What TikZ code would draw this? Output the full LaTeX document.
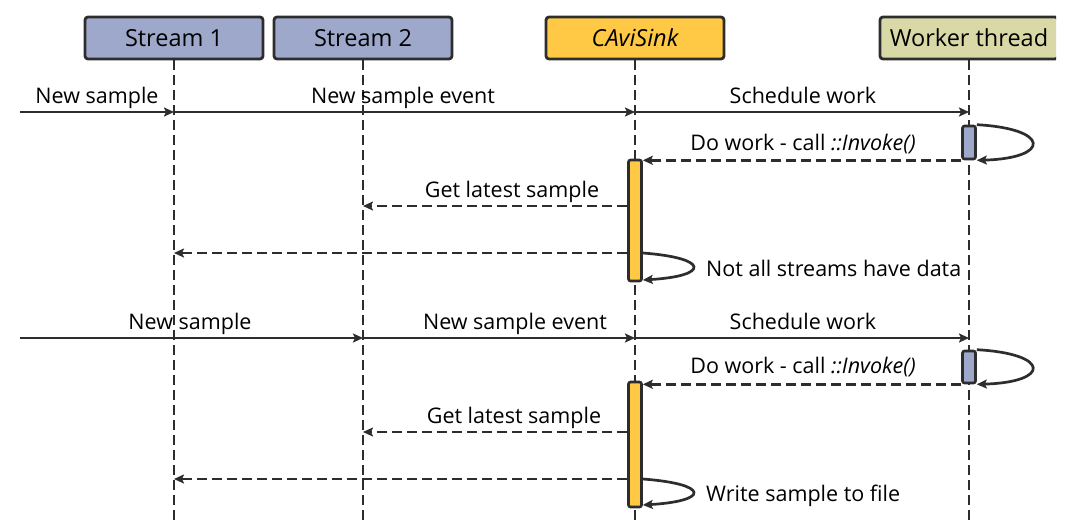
\documentclass[tikz,border=0pt]{standalone}
\usepackage{fontspec}
\setmainfont{Open Sans}
\usetikzlibrary{arrows.meta}
\definecolor{streamfill}{RGB}{157,168,202}
\definecolor{sinkfill}{RGB}{255,200,69}
\definecolor{workfill}{RGB}{216,217,166}
\definecolor{ink}{RGB}{45,45,45}
\begin{document}
\begin{tikzpicture}[x=1pt,y=-1pt,
  head/.style={draw=ink, line width=2.8pt, rounded corners=3pt, minimum width=178pt, minimum height=42pt, inner sep=0pt, font=\fontsize{23.5}{26}\selectfont},
  life/.style={draw=ink, line width=2.8pt, dash pattern=on 10pt off 5pt},
  msg/.style={draw=ink, line width=2.7pt, -{Stealth[length=10pt,width=9pt,inset=2pt]}},
  ret/.style={msg, dash pattern=on 10pt off 5pt},
  bar/.style={draw=ink, line width=2.6pt, rounded corners=2pt, minimum width=13pt, inner sep=0pt},
  lbl/.style={font=\fontsize{21.5}{24}\selectfont, text=black, anchor=base, inner sep=0pt}]
\useasboundingbox (0,0) rectangle (1076,528);
% headers
\node[head, fill=streamfill] (s1) at (174,38) {Stream 1};
\node[head, fill=streamfill] (s2) at (363,38) {Stream 2};
\node[head, fill=sinkfill] (sink) at (635,38) {\itshape CAviSink};
\begin{scope}
\clip (860,0) rectangle (1056,80);
\node[head, fill=workfill] (worker) at (969,38) {Worker thread};
\end{scope}
% lifeline ends
\coordinate (e1) at (174,520);
\coordinate (e2) at (363,520);
\coordinate (e3) at (635,520);
\coordinate (e4) at (969,520);
\draw[life] (s1.south) -- (e1);
\draw[life] (s2.south) -- (e2);
\draw[life] (sink.south) -- (e3);
\draw[life] (worker.south) -- (e4);
% activation bars
\node[bar, fill=streamfill, minimum height=33pt] (wb1) at (969,142.5) {};
\node[bar, fill=sinkfill, minimum height=121pt] (sb1) at (635,220.5) {};
\node[bar, fill=streamfill, minimum height=32pt] (wb2) at (969,367) {};
\node[bar, fill=sinkfill, minimum height=125pt] (sb2) at (635,444.5) {};
% ---- block 1
\coordinate (in1) at (20,112);
\draw[msg] (in1) -- (s1.south |- in1);
\draw[msg] (s1.south |- in1) -- (sink.south |- in1);
\draw[msg] (sink.south |- in1) -- (worker.south |- in1);
\node[lbl] (l1) at (97,103) {New sample};
\node[lbl] (l2) at (403,103) {New sample event};
\node[lbl] (l3) at (803,103) {Schedule work};
\draw[msg] (wb1.north east) .. controls +(74,4) and +(74,-2) .. (wb1.south east);
\draw[ret] (wb1.south west) -- (wb1.south west -| sb1.east);
\node[lbl] (l4) at (803,150) {Do work - call \textit{::Invoke()}};
\coordinate (g1) at (0,206);
\draw[ret] (sb1.west |- g1) -- (s2.south |- g1);
\node[lbl] (l5) at (512,197) {Get latest sample};
\coordinate (b1) at (0,253);
\coordinate (c1) at (0,280);
\draw[ret] (sb1.west |- b1) -- (s1.south |- b1);
\draw[msg] (sb1.east |- b1) .. controls +(67,5) and +(67,-4) .. (sb1.east |- c1);
\node[lbl, anchor=base west] (l6) at (706,276) {Not all streams have data};
% ---- block 2
\coordinate (in2) at (20,338);
\draw[msg] (in2) -- (s2.south |- in2);
\draw[msg] (s2.south |- in2) -- (sink.south |- in2);
\draw[msg] (sink.south |- in2) -- (worker.south |- in2);
\node[lbl] (m1) at (190,329) {New sample};
\node[lbl] (m2) at (515,329) {New sample event};
\node[lbl] (m3) at (803,329) {Schedule work};
\draw[msg] (wb2.north east) .. controls +(74,4) and +(74,-2) .. (wb2.south east);
\draw[ret] (wb2.south west) -- (wb2.south west -| sb2.east);
\node[lbl] (m4) at (803,373) {Do work - call \textit{::Invoke()}};
\coordinate (g2) at (0,432);
\draw[ret] (sb2.west |- g2) -- (s2.south |- g2);
\node[lbl] (m5) at (514,423) {Get latest sample};
\coordinate (b2) at (0,479);
\coordinate (c2) at (0,505);
\draw[ret] (sb2.west |- b2) -- (s1.south |- b2);
\draw[msg] (sb2.east |- b2) .. controls +(67,5) and +(67,-4) .. (sb2.east |- c2);
\node[lbl, anchor=base west] (m6) at (706,501) {Write sample to file};
\end{tikzpicture}
\end{document}
